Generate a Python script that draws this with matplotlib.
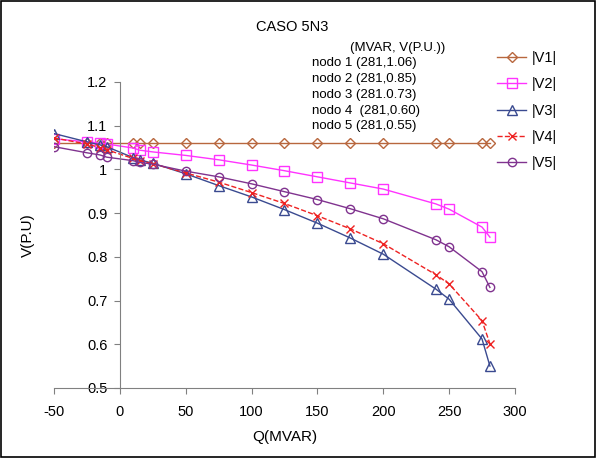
import matplotlib
matplotlib.use('Agg')
import matplotlib.pyplot as plt
from matplotlib.patches import Rectangle

plt.rcParams['font.family'] = ['Liberation Sans', 'DejaVu Sans']
plt.rcParams['axes.unicode_minus'] = False

# Q (MVAR) and node voltages (p.u.)
q = [-50, -25, -15, -10, 10, 15, 25, 50, 75, 100, 125, 150, 175, 200, 240, 250, 275, 281]
v1 = [1.06] * len(q)
v2 = [1.07, 1.063, 1.06, 1.058, 1.049, 1.044, 1.04, 1.032, 1.022, 1.01, 0.997,
      0.983, 0.969, 0.955, 0.921, 0.909, 0.868, 0.845]
v3 = [1.082, 1.063, 1.056, 1.052, 1.027, 1.022, 1.014, 0.99, 0.963, 0.937, 0.908,
      0.877, 0.843, 0.806, 0.726, 0.703, 0.612, 0.55]
v4 = [1.072, 1.058, 1.05, 1.045, 1.025, 1.02, 1.013, 0.992, 0.971, 0.947, 0.922,
      0.894, 0.864, 0.83, 0.759, 0.738, 0.654, 0.601]
v5 = [1.052, 1.038, 1.033, 1.028, 1.02, 1.016, 1.012, 0.996, 0.983, 0.967, 0.949,
      0.931, 0.91, 0.887, 0.839, 0.823, 0.766, 0.73]

notes = ['(MVAR, V(P.U.))', 'nodo 1 (281,1.06)', 'nodo 2 (281,0.85)',
         'nodo 3 (281.0.73)', 'nodo 4  (281,0.60)', 'nodo 5 (281,0.55)']

fig = plt.figure(figsize=(5.96, 4.58), dpi=100)
ax = fig.add_axes([0.0906, 0.153, 0.7734, 0.668])

ax.plot(q, v1, color='#b8673e', lw=1, marker='D', ms=5, mfc='none', label='|V1|')
ax.plot(q, v2, color='#ff33ff', lw=1, marker='s', ms=7, mfc='none', label='|V2|')
ax.plot(q, v3, color='#3a4a90', lw=1, marker='^', ms=7, mfc='none', label='|V3|')
ax.plot(q, v4, color='#ee2222', lw=1, ls='--', marker='x', ms=6, label='|V4|')
ax.plot(q, v5, color='#80338f', lw=1, marker='o', ms=6, mfc='none', label='|V5|')

ax.set_xlim(-50, 300)
ax.set_ylim(0.5, 1.2)
ax.set_xticks(range(-50, 301, 50))
ax.set_yticks([0.5, 0.6, 0.7, 0.8, 0.9, 1.0, 1.1, 1.2])
ax.set_yticklabels(['0.5', '0.6', '0.7', '0.8', '0.9', '1', '1.1', '1.2'])
ax.spines['top'].set_visible(False)
ax.spines['right'].set_visible(False)
ax.spines['left'].set_position(('data', 0))
for s in ['left', 'bottom']:
    ax.spines[s].set_color('#808080')
ax.tick_params(colors='#808080', labelcolor='black', labelsize=10.5, length=4)
ax.tick_params(axis='x', pad=8)
ax.tick_params(axis='y', pad=5)

ax.set_xlabel('Q(MVAR)', fontsize=11, labelpad=8)
fig.text(0.047, 0.487, 'V(P.U)', rotation=90, fontsize=11, ha='center', va='center')
fig.text(0.49, 0.94, 'CASO 5N3', fontsize=10.5, ha='center', va='center')

fig.text(0.667, 0.895, notes[0], fontsize=9.5, ha='center', va='center')
for i, t in enumerate(notes[1:]):
    fig.text(0.524, 0.862 - i * 0.0345, t, fontsize=9.5, ha='left', va='center')

ax.legend(loc='upper left', bbox_to_anchor=(0.834, 0.889), bbox_transform=fig.transFigure,
          frameon=False, fontsize=10.5, handlelength=2.0, handletextpad=0.35,
          labelspacing=0.85, borderaxespad=0, borderpad=0)

fig.patches.append(Rectangle((0.002, 0.002), 0.996, 0.996, transform=fig.transFigure,
                             fill=False, edgecolor='black', lw=1.2))

fig.savefig('out.png', dpi=100)
